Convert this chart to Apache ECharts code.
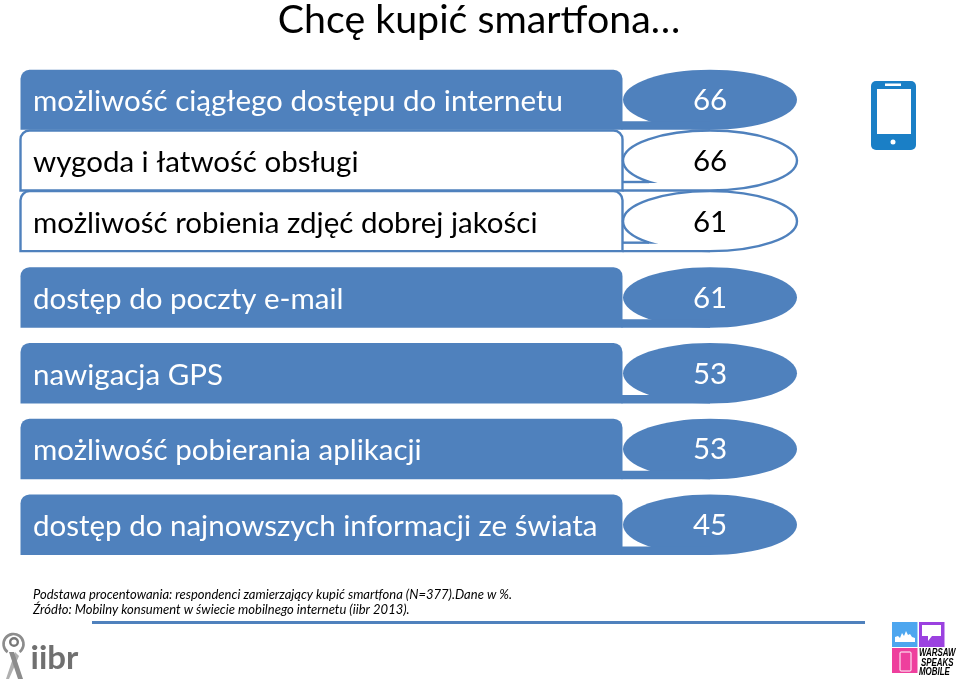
<!DOCTYPE html>
<html>
<head>
<meta charset="utf-8">
<style>html,body{margin:0;padding:0;background:#fff}#chart{width:960px;height:680px}</style>
<script src="https://cdn.jsdelivr.net/npm/echarts@6/dist/echarts.min.js"></script>
</head>
<body>
<div id="chart"></div>
<script>
// first block of rows sits tighter than the second one, so two grids
var featuresTop = ['możliwość ciągłego dostępu do internetu', 'wygoda i łatwość obsługi', 'możliwość robienia zdjęć dobrej jakości'];
var valuesTop = [66, 66, 61];
var outlinedTop = [false, true, true];
var featuresRest = ['dostęp do poczty e-mail', 'nawigacja GPS', 'możliwość pobierania aplikacji', 'dostęp do najnowszych informacji ze świata'];
var valuesRest = [61, 53, 53, 45];
var outlinedRest = [false, false, false, false];
var titleText = 'Chcę kupić smartfona…';
var noteLines = ['Podstawa procentowania: respondenci zamierzający kupić smartfona (N=377).Dane w %.', 'Źródło: Mobilny konsument w świecie mobilnego internetu (iibr 2013).'];

var blue = '#4f81bd';
var labelFont = 'Lato';
var logoFont = 'Liberation Sans';

function renderRow(labels, values, outlined) {
  return function (params, api) {
    var i = api.value(0);
    var c = api.coord([0, i]);
    var band = api.size([0, 1])[1];
    var h = band > 70 ? 60.5 : 60;
    var top = c[1] - h / 2, bottom = c[1] + h / 2;
    var left = 20.5, mid = 622.5;
    var cx = 710, rx = 87;
    var tip = bottom - 8.5;
    var line = outlined[i];
    var fill = line ? '#fff' : blue;
    var ink = line ? '#000' : '#fff';
    var stroke = line ? { fill: fill, stroke: blue, lineWidth: 2.4 } : { fill: fill };
    var kids = [
      { type: 'rect', shape: { x: left, y: top, width: mid - left, height: h, r: [9, 9, 0, 0] }, style: stroke },
      { type: 'ellipse', shape: { cx: cx, cy: c[1], rx: rx, ry: h / 2 }, style: stroke }
    ];
    if (line) {
      kids.push({ type: 'rect', shape: { x: mid + 1.4, y: tip + 1, width: cx - mid - 1.4, height: bottom - tip - 1 }, style: { fill: '#fff' } });
      kids.push({ type: 'line', shape: { x1: mid, y1: tip, x2: 649, y2: tip }, style: { stroke: blue, lineWidth: 2.4 } });
      kids.push({ type: 'line', shape: { x1: mid, y1: bottom, x2: cx, y2: bottom }, style: { stroke: blue, lineWidth: 2.4 } });
    } else {
      kids.push({ type: 'rect', shape: { x: mid - 1, y: tip, width: cx - mid + 1, height: bottom - tip }, style: { fill: blue } });
    }
    kids.push({ type: 'text', style: { x: 33, y: c[1] + 2, text: labels[i], fill: ink, font: '29.5px ' + labelFont, align: 'left', verticalAlign: 'middle' } });
    kids.push({ type: 'text', style: { x: cx, y: c[1] + 1, text: String(api.value(1)), fill: ink, font: '29.5px ' + labelFont, align: 'center', verticalAlign: 'middle' } });
    return { type: 'group', children: kids };
  };
}

function rowData(values) {
  return values.map(function (v, i) { return [i, v]; });
}

var chart = echarts.init(document.getElementById('chart'), null, { renderer: 'canvas' });

var option = {
  animation: false,
  backgroundColor: '#fff',
  title: {
    text: titleText, left: 474, top: -4, textAlign: 'center',
    textStyle: { fontFamily: labelFont, fontSize: 39.3, fontWeight: 'normal', color: '#000' }
  },
  grid: [
    { left: 0, right: 0, top: 69.5, height: 182 },
    { left: 0, right: 0, top: 259.5, height: 303 }
  ],
  xAxis: [
    { type: 'value', gridIndex: 0, min: 0, max: 100, show: false },
    { type: 'value', gridIndex: 1, min: 0, max: 100, show: false }
  ],
  yAxis: [
    { type: 'category', gridIndex: 0, data: featuresTop, inverse: true, show: false },
    { type: 'category', gridIndex: 1, data: featuresRest, inverse: true, show: false }
  ],
  series: [
    { type: 'custom', xAxisIndex: 0, yAxisIndex: 0, encode: { y: 0, x: 1 }, data: rowData(valuesTop), renderItem: renderRow(featuresTop, valuesTop, outlinedTop), silent: true, clip: false },
    { type: 'custom', xAxisIndex: 1, yAxisIndex: 1, encode: { y: 0, x: 1 }, data: rowData(valuesRest), renderItem: renderRow(featuresRest, valuesRest, outlinedRest), silent: true, clip: false }
  ],
  graphic: [
    // footnotes and rule
    { type: 'text', left: 33, top: 588, style: { text: noteLines[0], fill: '#000', font: 'italic 13px ' + labelFont } },
    { type: 'text', left: 33, top: 603, style: { text: noteLines[1], fill: '#000', font: 'italic 13px ' + labelFont } },
    { type: 'line', shape: { x1: 92, y1: 622.5, x2: 865, y2: 622.5 }, style: { stroke: blue, lineWidth: 3 } },
    // phone icon
    { type: 'rect', shape: { x: 871, y: 81, width: 45, height: 69, r: 5 }, style: { fill: '#1a7fc6' } },
    { type: 'rect', shape: { x: 877, y: 89, width: 34, height: 45 }, style: { fill: '#fff' } },
    { type: 'rect', shape: { x: 885, y: 83.5, width: 16, height: 2.5 }, style: { fill: '#fff' } },
    { type: 'circle', shape: { cx: 893, cy: 142, r: 2.5 }, style: { fill: '#fff' } },
    // iibr logo
    { type: 'arc', shape: { cx: 13.5, cy: 644, r: 10, startAngle: 2.2, endAngle: 7.2 }, style: { fill: 'none', stroke: '#8c8c8c', lineWidth: 2.6 } },
    { type: 'ring', shape: { cx: 14, cy: 642, r: 5, r0: 2.6 }, style: { fill: '#777' } },
    { type: 'polygon', shape: { points: [[15, 652], [19, 656], [9, 679], [6, 679]] }, style: { fill: '#b0b0b0' } },
    { type: 'polygon', shape: { points: [[9, 652], [14, 652], [23, 679], [18, 679]] }, style: { fill: '#8c8c8c' } },
    { type: 'text', left: 30.5, top: 642, style: { text: 'iibr', fill: '#707070', font: 'bold 33px ' + labelFont } },
    // warsaw speaks mobile logo
    { type: 'rect', shape: { x: 892, y: 622, width: 25.5, height: 25 }, style: { fill: '#4da6ef' } },
    { type: 'polygon', shape: { points: [[895, 642], [895, 637], [898, 636], [900, 638], [902, 633], [904, 636], [906, 631], [908, 635], [910, 634], [912, 637], [915, 638], [915, 642]] }, style: { fill: '#fff' } },
    { type: 'rect', shape: { x: 919, y: 622, width: 25.5, height: 25 }, style: { fill: '#9b41e0' } },
    { type: 'polygon', shape: { points: [[922, 625], [941, 625], [941, 636], [932, 636], [928, 641], [928, 636], [922, 636]] }, style: { fill: '#fff' } },
    { type: 'rect', shape: { x: 892, y: 648, width: 25.5, height: 25 }, style: { fill: '#ee3f9d' } },
    { type: 'rect', shape: { x: 900, y: 652, width: 11, height: 19, r: 1 }, style: { fill: 'none', stroke: '#fff', lineWidth: 1 } },
    { type: 'text', x: 919, y: 647.5, scaleX: 0.72, style: { text: 'WARSAW', fill: '#000', font: 'italic bold 11px ' + logoFont } },
    { type: 'text', x: 921, y: 657, scaleX: 0.72, style: { text: 'SPEAKS', fill: '#000', font: 'italic bold 11px ' + logoFont } },
    { type: 'text', x: 919, y: 666.5, scaleX: 0.72, style: { text: 'MOBILE', fill: '#000', font: 'italic bold 11px ' + logoFont } }
  ]
};
chart.setOption(option);
</script>
</body>
</html>
